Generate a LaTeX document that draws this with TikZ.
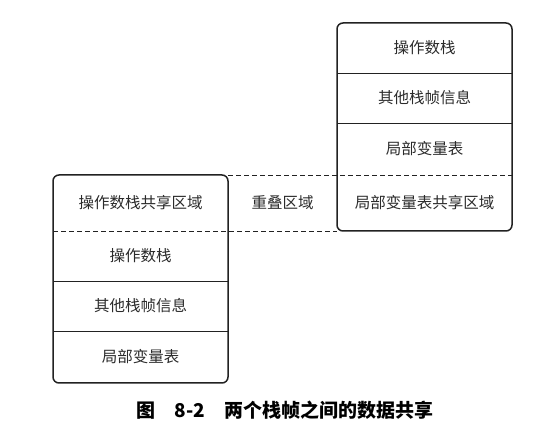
\documentclass[tikz,border=0pt]{standalone}
\usepackage{fontspec}
\usepackage{tikz}
\usepackage{xcolor}
\usetikzlibrary{
  calc, positioning, fit
}
\newfontfamily\cjk{Noto Sans CJK SC}
\definecolor{framedark}{HTML}{222222}
\definecolor{textdark}{HTML}{2B2B2B}
\tikzset{
  % One row of a stack frame
  slot/.style={
    minimum width=175pt, minimum height=#1,
    inner sep=0pt, outer sep=0pt,
    font=\cjk\fontsize{15.5}{18}\selectfont, text=textdark,
  },
  % Outer frame of a stack frame
  frame/.style={
    draw=framedark, rounded corners=6pt,
    inner sep=0pt, line width=1.5pt,
  },
  divider/.style={draw=framedark, line width=0.7pt},
  shareline/.style={draw=framedark, line width=0.7pt,
                    dash pattern=on 5pt off 3pt},
  caption/.style={font=\cjk\bfseries\fontsize{19}{22}\selectfont, text=black},
}
\begin{document}
\begin{tikzpicture}[x=1pt, y=1pt, node distance=0pt]
  \useasboundingbox (0,0) rectangle (556,427);
  % upper frame (right)
  \node[slot=50pt, anchor=north west] (r1) at (337,404) {操作数栈};
  \node[slot=50pt, below=of r1] (r2) {其他栈帧信息};
  \node[slot=52pt, below=of r2] (r3) {局部变量表};
  \node[slot=56pt, below=of r3] (r4) {局部变量表共享区域};
  % lower frame (left)
  \node[slot=56pt, anchor=north west] (l1) at (53,252) {操作数栈共享区域};
  \node[slot=50pt, below=of l1] (l2) {操作数栈};
  \node[slot=50pt, below=of l2] (l3) {其他栈帧信息};
  \node[slot=52pt, below=of l3] (l4) {局部变量表};
  \node[frame, fit=(r1)(r4)] (upper) {};
  \node[frame, fit=(l1)(l4)] (lower) {};
  \draw[divider] (r1.south west) -- (r1.south east);
  \draw[divider] (r2.south west) -- (r2.south east);
  \draw[divider] (l2.south west) -- (l2.south east);
  \draw[divider] (l3.south west) -- (l3.south east);
  \draw[shareline] (l1.north east) -- (r3.south east);
  \draw[shareline] (l1.south west) -- (r4.south west);
  \node[slot=20pt, minimum width=0pt] (overlap) at ($(l1.east)!0.5!(r4.west)$) {重叠区域};
  \node[caption] (cap) at (285,17) {图\quad 8-2\quad 两个栈帧之间的数据共享};
\end{tikzpicture}
\end{document}
